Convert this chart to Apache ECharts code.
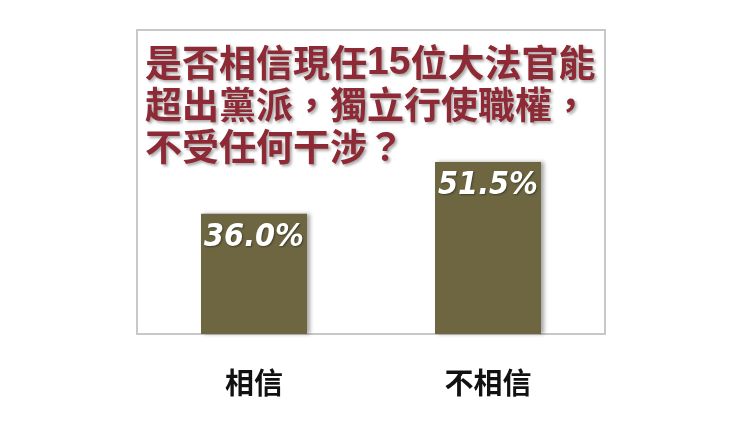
<!DOCTYPE html>
<html><head><meta charset="utf-8">
<script src="https://cdn.jsdelivr.net/npm/echarts@6/dist/echarts.min.js"></script>
<style>html,body{margin:0;padding:0;background:#fff}#c{width:750px;height:421px}</style>
</head><body><div id="c"></div>
<script>
const categories = ['相信', '不相信'];
const values = [36.0, 51.5];
const titleLines = ['是否相信現任{n|15}位大法官能', '超出黨派，獨立行使職權，', '不受任何干涉？'];

const chart = echarts.init(document.getElementById('c'), null, {renderer: 'canvas'});
const cjk = '"Noto Sans CJK TC", "Noto Sans CJK SC", sans-serif';
const shadow = {textShadowColor: 'rgba(0,0,0,0.35)', textShadowBlur: 3, textShadowOffsetX: 2, textShadowOffsetY: 2};
chart.setOption({
  backgroundColor: '#ffffff',
  animation: false,
  title: {
    text: titleLines.join('\n'),
    left: 145, top: 42, padding: 0,
    textStyle: Object.assign({
      fontFamily: cjk, fontSize: 37, fontWeight: 'bold', color: '#8e2a35', lineHeight: 42,
      rich: {
        n: Object.assign({fontFamily: '"Liberation Sans", Arial, sans-serif', fontSize: 39, fontWeight: 'bold', color: '#8e2a35', lineHeight: 42}, shadow)
      }
    }, shadow)
  },
  grid: {left: 137, right: 145, top: 30, bottom: 87, show: true, borderColor: '#c8c8c8', borderWidth: 2, backgroundColor: 'transparent'},
  xAxis: {
    type: 'category', data: categories,
    axisLine: {show: true, lineStyle: {color: '#c8c8c8', width: 2}},
    axisTick: {show: false},
    axisLabel: {margin: 34, fontFamily: cjk, fontSize: 29, fontWeight: 'bold', color: '#111'}
  },
  yAxis: {type: 'value', min: 0, max: 91, show: false, splitLine: {show: false}},
  series: [{
    type: 'bar', data: values, barWidth: 106,
    itemStyle: {color: '#6d6641', shadowColor: 'rgba(0,0,0,0.35)', shadowBlur: 4, shadowOffsetX: 3, shadowOffsetY: 0},
    label: {
      show: true, position: 'insideTop', distance: 8,
      formatter: p => p.value.toFixed(1) + '%',
      fontFamily: '"DejaVu Sans Condensed", sans-serif',
      fontSize: 32, fontWeight: 'bold', fontStyle: 'italic', color: '#ffffff',
      textShadowColor: 'rgba(0,0,0,0.4)', textShadowBlur: 2, textShadowOffsetX: 1, textShadowOffsetY: 1
    }
  }]
});
</script></body></html>
